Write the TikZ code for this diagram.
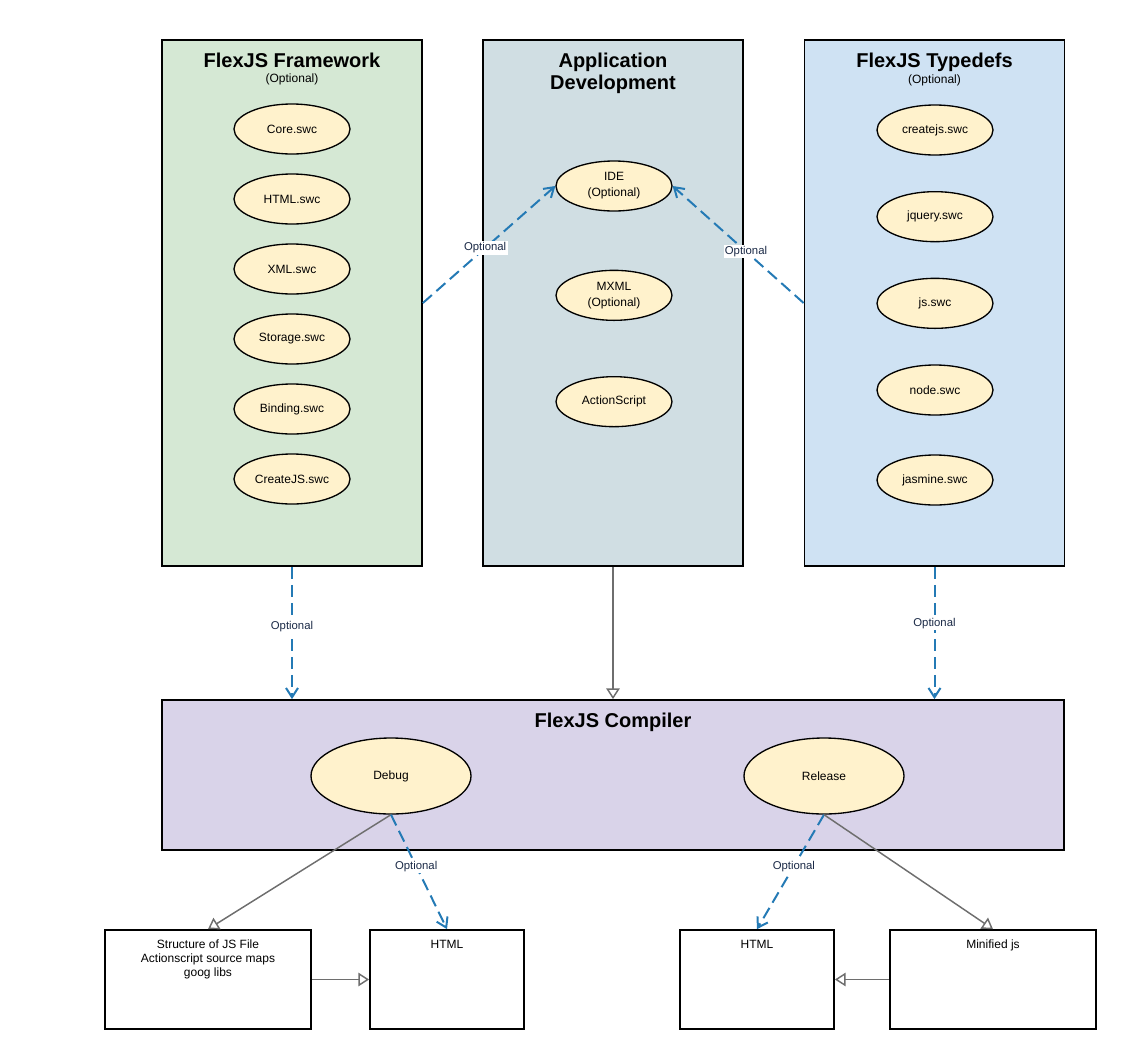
\documentclass[tikz,border=0pt]{standalone}
\usepackage{fontspec}
\setmainfont{Liberation Sans}
\usepackage{xcolor}
\definecolor{fwgreen}{RGB}{213,232,212}
\definecolor{devgray}{RGB}{208,222,227}
\definecolor{tdblue}{RGB}{207,226,243}
\definecolor{comppurple}{RGB}{217,211,233}
\definecolor{swcyellow}{RGB}{255,242,204}
\definecolor{optblue}{RGB}{36,122,181}
\definecolor{linkgray}{RGB}{110,110,110}
\definecolor{labelnavy}{RGB}{27,42,71}
\usetikzlibrary{shapes.geometric, arrows.meta, positioning}

\begin{document}
\begin{tikzpicture}[
    x=0.75pt, y=-0.75pt,
    panel/.style={
      rectangle, draw=black, line width=1.3pt,
      minimum width=195pt, minimum height=394.5pt,
      inner sep=0pt
    },
    swc/.style={
      ellipse, draw=black, line width=1pt, fill=swcyellow,
      minimum width=87pt, minimum height=37.5pt,
      inner sep=0pt, align=center,
      font=\fontsize{9}{12}\selectfont
    },
    mode/.style={swc, minimum width=120pt, minimum height=57pt},
    outbox/.style={
      rectangle, draw=black, line width=1.3pt, fill=white,
      minimum height=74.25pt, inner sep=0pt
    },
    boxtext/.style={anchor=north, yshift=-8pt, inner sep=0pt, align=center,
      font=\fontsize{9}{10.5}\selectfont},
    title/.style={inner sep=0pt, align=center,
      font=\fontsize{15}{16.5}\selectfont\bfseries},
    subtitle/.style={inner sep=0pt, font=\fontsize{9}{11}\selectfont},
    optarrow/.style={draw=optblue, line width=1.5pt,
      dash pattern=on 9pt off 4.5pt,
      -{Straight Barb[length=7pt, width=9pt]}},
    inherit/.style={draw=linkgray, line width=1.1pt,
      -{Triangle[open, length=8pt, width=10pt]}},
    optlabel/.style={fill=white, text=labelnavy, inner sep=1pt,
      font=\fontsize{8.5}{10}\selectfont}
  ]
  \useasboundingbox (0,0) rectangle (1121,1050);

  % Panels
  \node[panel, fill=fwgreen] (fw)  at (292,303)   {};
  \node[panel, fill=devgray] (dev) at (613,303)   {};
  \node[panel, fill=tdblue]  (td)  at (934.5,303) {};

  \node[title, below=10pt of fw.north]    (fwtitle)  {FlexJS Framework};
  \node[subtitle, below=4.5pt of fwtitle] (fwopt)    {(Optional)};
  \node[title, below=10pt of dev.north]   (devtitle) {Application\\Development};
  \node[title, below=10pt of td.north]    (tdtitle)  {FlexJS Typedefs};
  \node[subtitle, below=2.5pt of tdtitle] (tdopt)    {(Optional)};

  % Framework libraries
  \node[swc] (core) at (292,129) {Core.swc};
  \node[swc, below=14pt of core]    (html)    {HTML.swc};
  \node[swc, below=14pt of html]    (xml)     {XML.swc};
  \node[swc, below=14pt of xml]     (storage) {Storage.swc};
  \node[swc, below=14pt of storage] (binding) {Binding.swc};
  \node[swc, below=14pt of binding] (cjs)     {CreateJS.swc};

  % Application development
  \node[swc] (ide) at (614,186) {IDE\\(Optional)};
  \node[swc, below=43.5pt of ide]   (mxml)  {MXML\\(Optional)};
  \node[swc, below=41.25pt of mxml] (ascript) {ActionScript};

  % Typedefs
  \node[swc] (createjs) at (935,130) {createjs.swc};
  \node[swc, below=26.5pt of createjs] (jquery)  {jquery.swc};
  \node[swc, below=26.5pt of jquery]   (js)      {js.swc};
  \node[swc, below=26.5pt of js]       (nodejs)  {node.swc};
  \node[swc, below=29pt of nodejs]     (jasmine) {jasmine.swc};

  % Compiler
  \node[rectangle, draw=black, line width=1.3pt, fill=comppurple,
        minimum width=676.5pt, minimum height=112.5pt] (comp) at (613,775) {};
  \node[title, below=10pt of comp.north] (comptitle) {FlexJS Compiler};
  \node[mode] (debug)   at (391,776) {Debug};
  \node[mode] (release) at (824,776) {Release};

  % Outputs
  \node[outbox, minimum width=154.5pt,
        label={[boxtext]north:Structure of JS File\\Actionscript source maps\\goog libs}]
        (structure) at (208,979.5) {};
  \node[outbox, minimum width=115.5pt, label={[boxtext]north:HTML}]
        (dbghtml) at (447,979.5) {};
  \node[outbox, minimum width=115.5pt, label={[boxtext]north:HTML}]
        (relhtml) at (757,979.5) {};
  \node[outbox, minimum width=154.5pt, label={[boxtext]north:Minified js}]
        (minified) at (993,979.5) {};

  % Arrows – into the IDE
  \draw[optarrow] (fw.east) -- node[optlabel, pos=0.47] {Optional} (ide.west);
  \draw[optarrow] (td.west) -- node[optlabel, pos=0.44] {Optional} (ide.east);

  % Arrows – into the compiler
  \draw[optarrow] (fw.south) -- node[optlabel, pos=0.45] {Optional} (fw.south |- comp.north);
  \draw[inherit]  (dev.south) -- (dev.south |- comp.north);
  \draw[optarrow] (td.south) -- node[optlabel, pos=0.43] {Optional} (td.south |- comp.north);

  % Arrows – outputs
  \draw[inherit]  (debug.south) -- (structure.north);
  \draw[optarrow] (debug.south) -- node[optlabel, pos=0.45] {Optional} (dbghtml.north);
  \draw[optarrow] (release.south) -- node[optlabel, pos=0.45] {Optional} (relhtml.north);
  \draw[inherit]  (release.south) -- (minified.north);
  \draw[inherit]  (structure.east) -- (dbghtml.west);
  \draw[inherit]  (minified.west) -- (relhtml.east);

\end{tikzpicture}
\end{document}
